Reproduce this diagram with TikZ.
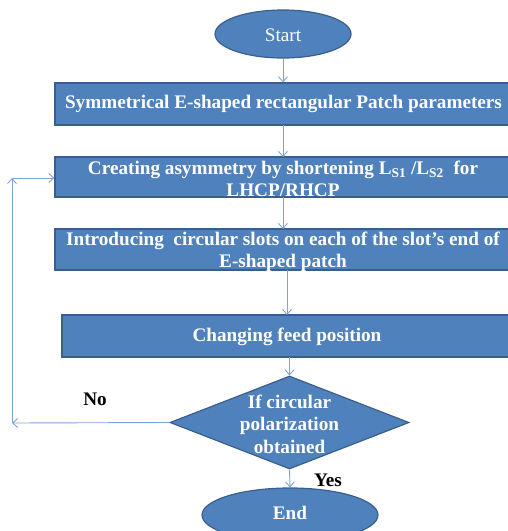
\documentclass[tikz,border=0pt]{standalone}
\usepackage{fontspec}
\setmainfont{Liberation Serif}
\usetikzlibrary{arrows.meta,shapes.geometric}
\definecolor{boxfill}{HTML}{4F81BD}
\definecolor{boxline}{HTML}{3A5F8B}
\definecolor{arrowc}{HTML}{7EA3D4}
\tikzset{
  x=1pt,y=-1pt,
  boxstyle/.style={draw=boxline,line width=1.2pt,fill=boxfill,rectangle,inner sep=0pt},
  termstyle/.style={draw=boxline,line width=1.2pt,fill=boxfill,ellipse,inner sep=0pt},
  txt/.style={text=white,font=\fontsize{19.2}{22.5}\selectfont\bfseries,align=center,inner sep=0pt},
  lbl/.style={text=black,font=\fontsize{19.2}{22.5}\selectfont\bfseries,inner sep=0pt},
  conn/.style={draw=arrowc,line width=0.9pt,-{Straight Barb[length=5pt,width=9pt]}}
}
\begin{document}
\begin{tikzpicture}
\useasboundingbox (0,0) rectangle (508,531);
\clip (0,0) rectangle (508,531);
% nodes
\node[termstyle,minimum width=136,minimum height=48] (start) at (283,34) {};
\node[text=white,font=\fontsize{19.2}{22.5}\selectfont,inner sep=0pt] (starttxt) at (283,35) {Start};
\node[boxstyle,minimum width=470,minimum height=42] (b1) at (290,104) {};
\node[txt] (b1txt) at (283.5,104) {Symmetrical E-shaped rectangular Patch parameters};
\node[boxstyle,minimum width=470,minimum height=40] (b2) at (290,177) {};
\node[txt] (b2txt) at (283,179) {Creating asymmetry by shortening L\textsubscript{S1} /L\textsubscript{S2}\ \ for\\LHCP/RHCP};
\node[boxstyle,minimum width=470,minimum height=41] (b3) at (290,249.5) {};
\node[txt] (b3txt) at (283,252) {Introducing\ \ circular slots on each of the slot’s end of\\E-shaped patch};
\node[boxstyle,minimum width=470,minimum height=42] (b4) at (297,336) {};
\node[txt] (b4txt) at (287,337) {Changing feed position};
\node[boxstyle,diamond,minimum width=239,minimum height=93,aspect=2.57] (dec) at (289.5,422.5) {};
\node[txt] (dectxt) at (289.5,424) {If circular\\polarization\\obtained};
\node[termstyle,minimum width=176,minimum height=54] (end) at (290,515) {};
\node[text=white,font=\fontsize{19.2}{22.5}\selectfont\bfseries,inner sep=0pt] (endtxt) at (290,513) {End};
\node[lbl] (no) at (95,399) {No};
\node[lbl] (yes) at (328,480) {Yes};
\coordinate (c1) at (12,423);
\coordinate (c2) at (12,178);
% connectors
\draw[conn] (start.south) -- (start.south |- b1.north);
\draw[conn] (283,125) -- (283,157);
\draw[conn] (283,197) -- (283,229);
\draw[conn] (287,270) -- (287,315);
\draw[conn] (289.5,357) -- (dec.north);
\draw[conn] (dec.south) -- (end.north);
\draw[conn] (dec.west) -- (c1);
\draw[conn] (c1) -- (c2);
\draw[conn] (c2) -- (c2 -| b2.west);
\end{tikzpicture}
\end{document}
